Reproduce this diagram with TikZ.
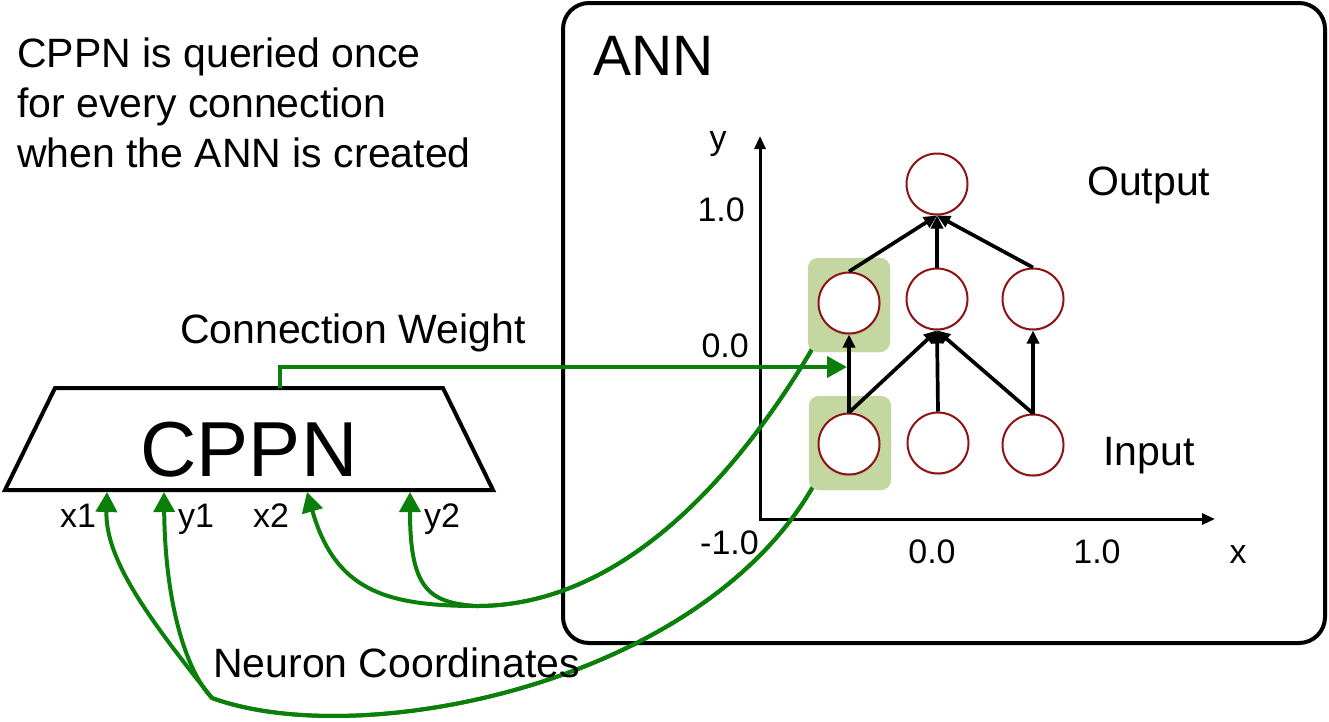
\documentclass[tikz,border=0pt]{standalone}
\usepackage{fontspec}
\setmainfont{Liberation Sans}
\usetikzlibrary{arrows.meta,shadows}

\definecolor{querygreen}{RGB}{10,128,10}
\definecolor{hlgreen}{RGB}{196,215,160}
\definecolor{neuronred}{RGB}{140,20,20}

\tikzset{
  neuron/.style={circle, draw=neuronred, line width=2pt, fill=white,
    minimum size=61pt, inner sep=0pt,
    drop shadow={shadow xshift=0pt, shadow yshift=-2pt, opacity=0.2}},
  hlbox/.style={fill=hlgreen, rounded corners=10pt, minimum width=82pt,
    minimum height=94pt, inner sep=0pt},
  wire/.style={line width=3.7pt, -{Triangle[length=13pt,width=12pt]}},
  query/.style={draw=querygreen, line width=4pt,
    -{Triangle[length=20pt,width=21pt]}},
  axis/.style={line width=3pt,
    {Triangle[length=13pt,width=11pt]}-{Triangle[length=13pt,width=11pt]}},
  txt/.style={font=\fontsize{41}{49}\selectfont, inner sep=0pt},
  num/.style={font=\fontsize{34}{40}\selectfont, inner sep=0pt},
}

\begin{document}
\begin{tikzpicture}[x={(1pt,0)}, y={(0,-1pt)}]
  \useasboundingbox (0,0) rectangle (1329,721);

  % note at top left
  \node[txt, anchor=base west] (note1) at (17,67) {CPPN is queried once};
  \node[txt, anchor=base west] (note2) at (17,117) {for every connection};
  \node[txt, anchor=base west] (note3) at (17,167) {when the ANN is created};

  % ANN frame
  \draw[line width=4pt, rounded corners=26pt] (563,3) rectangle (1325,643);
  \node[anchor=base west, inner sep=0pt, font=\fontsize{57}{60}\selectfont]
    (anntitle) at (593,75) {ANN};

  % axes
  \coordinate (origin) at (760,519);
  \coordinate (ytip) at (760,136);
  \coordinate (xtip) at (1215,519);
  \draw[axis] (ytip) -- (origin) -- (xtip);
  \node[num, anchor=base] (ylab) at (718,149) {y};
  \node[num, anchor=base] (xlab) at (1238,563) {x};
  \node[num, anchor=base east] (y1tick) at (745,221) {1.0};
  \node[num, anchor=base east] (y0tick) at (749,357) {0.0};
  \node[num, anchor=base east] (ymtick) at (759,554) {-1.0};
  \node[num, anchor=base] (x0tick) at (932,563) {0.0};
  \node[num, anchor=base] (x1tick) at (1097,563) {1.0};

  % CPPN
  \draw[line width=4pt] (5,490) -- (55,388) -- (443,388) -- (493,490) -- cycle;
  \node[anchor=base, inner sep=0pt, font=\fontsize{78}{80}\selectfont]
    (cppn) at (249,476) {CPPN};
  \coordinate (px1) at (107,492);
  \coordinate (py1) at (164,492);
  \coordinate (px2) at (307,492);
  \coordinate (py2) at (410,492);
  \coordinate (pw) at (280,388);
  \coordinate (wtip) at (847,367);
  \node[num, anchor=base west] (lx1) at (60,527) {x1};
  \node[num, anchor=base west] (ly1) at (178,527) {y1};
  \node[num, anchor=base west] (lx2) at (253,527) {x2};
  \node[num, anchor=base west] (ly2) at (424,527) {y2};

  % highlighted pair of neurons
  \node[hlbox] (hlhid) at (849,305) {};
  \node[hlbox] (hlin) at (850,443) {};

  % neuron coordinates fed back to the CPPN
  \draw[query] ([shift={(6,-6)}]hlhid.south west)
    .. controls (735,480) and (620,606) .. (477,606)
    .. controls (385,606) and (335,590) .. (px2);
  \draw[query] ([shift={(6,-6)}]hlhid.south west)
    .. controls (735,480) and (620,606) .. (477,606)
    .. controls (428,603) and (410,588) .. (py2);
  \draw[query] ([shift={(5,-5)}]hlin.south west)
    .. controls (700,685) and (360,752) .. (212,698)
    .. controls (150,620) and (105,560) .. (px1);
  \draw[query] ([shift={(5,-5)}]hlin.south west)
    .. controls (700,685) and (360,752) .. (212,698)
    .. controls (185,670) and (165,600) .. (py1);
  \node[hlbox] at (hlhid) {};
  \node[hlbox] at (hlin) {};

  % neurons
  \node[neuron] (out) at (937,184) {};
  \node[neuron] (hid1) at (849,303) {};
  \node[neuron] (hid2) at (937,299) {};
  \node[neuron] (hid3) at (1033,299) {};
  \node[neuron] (in1) at (849,444) {};
  \node[neuron] (in2) at (938,443) {};
  \node[neuron] (in3) at (1033,445) {};
  \node[txt, anchor=base west] (outlab) at (1087,195) {Output};
  \node[txt, anchor=base west] (inlab) at (1103,465) {Input};

  \draw[wire] (in1.north) -- (hid1.south);
  \draw[wire] (in1.north) -- (hid2.south);
  \draw[wire] (in2.north) -- (hid2.south);
  \draw[wire] (in3.north) -- (hid2.south);
  \draw[wire] (in3.north) -- (hid3.south);
  \draw[wire] (hid1.north) -- (out.south);
  \draw[wire] (hid2.north) -- (out.south);
  \draw[wire] (hid3.north) -- (out.south);

  % connection weight
  \draw[query] (pw) |- (wtip);
  \node[txt, anchor=base west] (wlab) at (180,343) {Connection Weight};
  \node[txt, anchor=base west] (nclab) at (213,677) {Neuron Coordinates};
\end{tikzpicture}
\end{document}
